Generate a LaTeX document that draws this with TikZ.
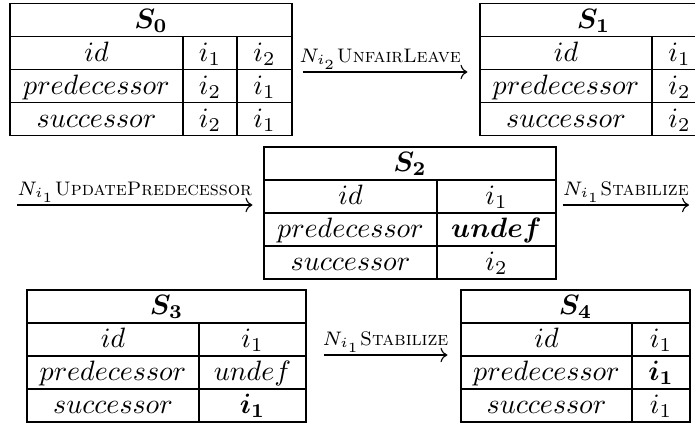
\documentclass[tikz,border=0pt]{standalone}
\usepackage{amsmath,bm}
\usetikzlibrary{fit,calc,arrows.meta}

\tikzset{
  frame/.style={draw, line width=0.4pt, inner sep=0pt},
  rule/.style={line width=0.4pt},
  cell/.style={anchor=base, inner sep=0pt},
  trans/.style={line width=0.4pt, -{Computer Modern Rightarrow}},
  translabel/.style={above=10*0.3571pt, anchor=base, inner sep=0pt, font=\scriptsize},
}

% State table with one value column:
% #1 name, #2 left x, #3 column rule x, #4 right x, #5 top y,
% #6 header, #7 id value, #8 predecessor value, #9 successor value
\newcommand{\statebox}[9]{%
  \node[frame, fit={(#2,#5) (#4,#5+132)}] (#1) {};
  \foreach \r in {33,66,99} \draw[rule] (#2,#5+\r) -- (#4,#5+\r);
  \draw[rule] (#3,#5+33) -- (#3,#5+132);
  \node[cell] at ({(#2+#4)/2},#5+24.5) {$\bm{#6}$};
  \node[cell] at ({(#2+#3)/2},#5+57.5) {$id$};
  \node[cell] at ({(#2+#3)/2},#5+90.5) {$predecessor$};
  \node[cell] at ({(#2+#3)/2},#5+123.5) {$successor$};
  \node[cell] at ({(#3+#4)/2},#5+57.5) {$#7$};
  \node[cell] at ({(#3+#4)/2},#5+90.5) {$#8$};
  \node[cell] at ({(#3+#4)/2},#5+123.5) {$#9$};
}

\begin{document}
\begin{tikzpicture}[x=0.3571pt, y=-0.3571pt]
  \useasboundingbox (0,0) rectangle (695,423);
  \clip (0,0) rectangle (695,423);

  % S0: two value columns
  \node[frame, fit={(10,3.5) (292,135.5)}] (s0) {};
  \foreach \r in {33,66,99} \draw[rule] (10,3.5+\r) -- (292,3.5+\r);
  \draw[rule] (183,36.5) -- (183,135.5);
  \draw[rule] (237,36.5) -- (237,135.5);
  \node[cell] at (151,28) {$\bm{S_0}$};
  \node[cell] at (96.5,61) {$id$};
  \node[cell] at (96.5,94) {$predecessor$};
  \node[cell] at (96.5,127) {$successor$};
  \node[cell] at (210,61) {$i_1$};
  \node[cell] at (210,94) {$i_2$};
  \node[cell] at (210,127) {$i_2$};
  \node[cell] at (264.5,61) {$i_2$};
  \node[cell] at (264.5,94) {$i_1$};
  \node[cell] at (264.5,127) {$i_1$};

  % S1 .. S4
  \statebox{s1}{480}{652}{707}{3.5}{S_1}{i_1}{i_2}{i_2}
  \statebox{s2}{264}{437}{556}{147}{S_2}{i_1}{\bm{undef}}{i_2}
  \statebox{s3}{27}{199}{306}{290}{S_3}{i_1}{undef}{\bm{i_1}}
  \statebox{s4}{461}{632}{690}{290}{S_4}{i_1}{\bm{i_1}}{i_1}

  % transitions
  \coordinate (in2) at (17,205);
  \coordinate (out2) at (689,205);

  \draw[trans] ($(s0.east)+(10,2.5)$)
      -- node[pos=0.47, translabel] {$N_{i_2}$\textsc{UnfairLeave}}
         ($(s1.west)+(-12,2.5)$);
  \draw[trans] (in2)
      -- node[translabel] {$N_{i_1}$\textsc{UpdatePredecessor}}
         ($(in2 -| s2.west)+(-11,0)$);
  \draw[trans] ($(in2 -| s2.east)+(6,0)$)
      -- node[translabel] {$N_{i_1}$\textsc{Stabilize}} (out2);
  \draw[trans] ($(s3.east)+(17,-1)$)
      -- node[translabel] {$N_{i_1}$\textsc{Stabilize}}
         ($(s4.west)+(-13,-1)$);
\end{tikzpicture}
\end{document}
